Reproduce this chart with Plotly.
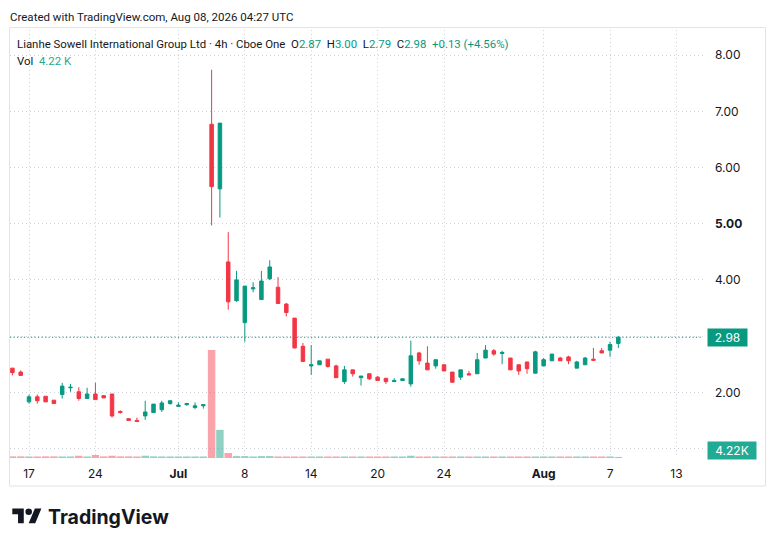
import plotly.graph_objects as go

# ---------------- data ----------------
trading_days = ["2026-06-16","2026-06-17","2026-06-18","2026-06-22","2026-06-23","2026-06-24",
                "2026-06-25","2026-06-26","2026-06-29","2026-06-30","2026-07-01","2026-07-02",
                "2026-07-06","2026-07-07","2026-07-08","2026-07-09","2026-07-10","2026-07-13",
                "2026-07-14","2026-07-15","2026-07-16","2026-07-17","2026-07-20","2026-07-21",
                "2026-07-22","2026-07-23","2026-07-24","2026-07-27","2026-07-28","2026-07-29",
                "2026-07-30","2026-07-31","2026-08-03","2026-08-04","2026-08-05","2026-08-06",
                "2026-08-07"]
future_days = ["2026-08-10","2026-08-11","2026-08-12","2026-08-13"]
session_starts = ["09:30","13:30"]

opens  = [2.43,2.36,1.83,1.92,1.93,1.86,1.96,2.08,2.01,1.89,1.97,1.94,1.97,1.66,1.53,1.50,
          1.58,1.64,1.69,1.80,1.75,1.78,1.73,1.76,6.77,5.62,4.32,3.63,3.24,3.84,3.65,4.02,
          3.87,3.57,3.32,2.82,2.47,2.49,2.59,2.47,2.19,2.40,2.26,2.33,2.27,2.25,2.19,2.21,
          2.15,2.70,2.52,2.47,2.49,2.36,2.27,2.33,2.33,2.61,2.74,2.69,2.61,2.49,2.54,2.34,
          2.47,2.56,2.61,2.63,2.43,2.49,2.59,2.74,2.75,2.87]
highs  = [2.43,2.39,1.96,1.96,1.93,1.86,2.17,2.15,2.09,2.08,2.17,1.95,1.97,1.68,1.54,1.55,
          1.85,1.79,1.85,1.85,1.82,1.81,1.82,1.78,7.74,6.79,4.85,4.16,3.89,3.96,4.16,4.35,
          4.05,3.59,3.32,2.88,2.84,2.56,2.59,2.49,2.47,2.40,2.29,2.33,2.29,2.25,2.25,2.25,
          2.92,2.72,2.82,2.58,2.49,2.36,2.40,2.38,2.70,2.84,2.77,2.74,2.61,2.49,2.54,2.74,
          2.61,2.68,2.63,2.65,2.56,2.63,2.79,2.79,2.90,3.00]
lows   = [2.30,2.30,1.80,1.80,1.83,1.80,1.89,2.01,1.85,1.89,1.87,1.90,1.55,1.62,1.50,1.47,
          1.51,1.64,1.65,1.78,1.74,1.76,1.70,1.71,4.97,5.11,3.47,3.61,2.90,3.78,3.65,4.00,
          3.58,3.35,2.78,2.55,2.31,2.49,2.44,2.26,2.15,2.28,2.12,2.22,2.21,2.15,2.19,2.21,
          2.10,2.49,2.40,2.42,2.38,2.17,2.22,2.31,2.33,2.61,2.65,2.50,2.40,2.31,2.33,2.34,
          2.47,2.56,2.56,2.50,2.43,2.49,2.57,2.70,2.63,2.79]
closes = [2.35,2.30,1.92,1.85,1.83,1.80,2.11,2.09,1.89,1.97,1.87,1.90,1.58,1.64,1.50,1.48,
          1.65,1.79,1.81,1.85,1.77,1.80,1.76,1.78,5.66,6.79,3.61,4.00,3.89,3.86,3.98,4.23,
          3.58,3.42,2.79,2.55,2.49,2.56,2.46,2.26,2.40,2.33,2.29,2.24,2.21,2.19,2.21,2.24,
          2.65,2.56,2.40,2.58,2.38,2.18,2.40,2.31,2.58,2.75,2.68,2.71,2.40,2.38,2.42,2.72,
          2.58,2.68,2.56,2.56,2.54,2.61,2.57,2.70,2.85,2.98]
volumes = [6500,6500,6000,6000,6500,6500,6000,6000,9000,6000,12000,6500,9000,6500,6500,6000,
           9000,6500,6000,6000,6000,6000,6000,6000,430000,112000,20000,7500,7500,6000,7500,7500,
           6000,6000,6000,6000,6000,6000,6000,6000,6000,6000,6000,6000,6000,6000,6000,6000,
           9000,6000,6000,6000,6000,6000,6000,6000,6000,6000,6000,6000,6000,6000,6000,6000,
           6000,6000,6000,6000,6000,6000,6000,6000,6000,4220]

tick_dates  = ["2026-06-17","2026-06-24","2026-07-01","2026-07-08","2026-07-14","2026-07-20",
               "2026-07-24","2026-08-03","2026-08-07","2026-08-13"]
tick_labels = ["17","24","<b>Jul</b>","8","14","20","24","<b>Aug</b>","7","13"]
price_ticks = [1, 2, 3, 4, 5, 6, 7, 8]
price_tick_labels = ["", "2.00", "", "4.00", "<b>5.00</b>", "6.00", "7.00", "8.00"]

symbol = "Lianhe Sowell International Group Ltd · 4h · Cboe One"
created = "Created with TradingView.com, Aug 08, 2026 04:27 UTC"

# ---------------- styling ----------------
UP = "#089981"
DOWN = "#F23645"
UP_VOL = "rgba(8,153,129,0.45)"
DOWN_VOL = "rgba(242,54,69,0.45)"
TXT = "#131722"
GRID = "#cfd2d8"
FONT = "Inter, Roboto, sans-serif"
HFONT = "Roboto, Inter, sans-serif"
OFF = 8                         # page body margin
W, H = 776 - OFF, 546 - OFF
L, R, T, B = 10, 703, 30, 458   # plot area in screen pixels

all_days = trading_days + future_days
bars_per_day = len(session_starts)
bar_labels = [f"{d} {s}" for d in trading_days for s in session_starts]
xs = list(range(len(bar_labels)))
tick_vals = [all_days.index(d) * bars_per_day for d in tick_dates]


def px(x):
    return (x - L) / (R - L)


def py(y):
    return (B - y) / (B - T)


vol_colors = [UP_VOL if c >= o else DOWN_VOL for o, c in zip(opens, closes)]

fig = go.Figure()
fig.add_trace(go.Bar(
    x=xs, y=volumes, marker=dict(color=vol_colors, line=dict(width=0)),
    yaxis="y", hoverinfo="skip", showlegend=False,
))
fig.add_trace(go.Candlestick(
    x=xs, open=opens, high=highs, low=lows, close=closes, yaxis="y2",
    increasing=dict(line=dict(color=UP, width=1), fillcolor=UP),
    decreasing=dict(line=dict(color=DOWN, width=1), fillcolor=DOWN),
    whiskerwidth=0, showlegend=False, hoverinfo="skip",
))

last_close = closes[-1]
chg = closes[-1] - closes[-2]
pct = chg / closes[-2] * 100
last_vol = volumes[-1]

shapes = [
    # chart frame
    dict(type="rect", xref="paper", yref="paper", x0=px(9.5), x1=px(765.5), y0=py(486), y1=py(27.5),
         line=dict(color="#e0e3eb", width=1), fillcolor="rgba(0,0,0,0)", layer="below"),
    # last price line
    dict(type="line", xref="paper", yref="y2", x0=0, x1=1, y0=last_close, y1=last_close,
         line=dict(color=UP, width=1.2, dash="1.2px,2.3px")),
]

# TradingView logo (decoration), built from its 36x18 outline
lx0, ly0, ls = 12.3, 508.5, 0.82


def lp(ux, uy):
    return f"{px(lx0 + ux * ls):.5f},{py(ly0 + (uy - 4) * ls):.5f}"


seven = "M" + " L".join(lp(a, b) for a, b in [(0, 4), (14, 4), (14, 22), (7, 22), (7, 11), (0, 11)]) + " Z"
slash = "M" + " L".join(lp(a, b) for a, b in [(20, 22), (27.5, 4), (35.5, 4), (28, 22)]) + " Z"
shapes.append(dict(type="path", xref="paper", yref="paper", path=seven, fillcolor=TXT, line=dict(width=0)))
shapes.append(dict(type="path", xref="paper", yref="paper", path=slash, fillcolor=TXT, line=dict(width=0)))
shapes.append(dict(type="circle", xref="paper", yref="paper",
                   x0=px(lx0 + 16 * ls), x1=px(lx0 + 24 * ls),
                   y0=py(ly0 + 8 * ls), y1=py(ly0 + 0 * ls), fillcolor=TXT, line=dict(width=0)))

sp = "\u00a0"
g = lambda s: f"<span style='color:{UP}'>{s}</span>"
header = (f"{symbol}{sp*2}O{g(f'{opens[-1]:.2f}')}{sp*2}H{g(f'{highs[-1]:.2f}')}{sp*2}"
          f"L{g(f'{lows[-1]:.2f}')}{sp*2}C{g(f'{closes[-1]:.2f}')}{sp*2}"
          f"{g(f'{chg:+.2f} ({pct:+.2f}%)')}")
vol_text = f"Vol{sp*2}<span style='color:#22ab94'>{last_vol/1000:.2f}{sp}K</span>"

annotations = [
    dict(xref="paper", yref="paper", x=px(8), y=py(17), xanchor="left", yanchor="middle",
         text=created, showarrow=False, font=dict(size=11.5, color=TXT, family=HFONT)),
    dict(xref="paper", yref="paper", x=px(15), y=py(44), xanchor="left", yanchor="middle",
         text=header, showarrow=False, font=dict(size=11.4, color=TXT, family=HFONT)),
    dict(xref="paper", yref="paper", x=px(15), y=py(61), xanchor="left", yanchor="middle",
         text=vol_text, showarrow=False, font=dict(size=11.4, color=TXT, family=HFONT)),
    dict(xref="paper", yref="y2", x=px(707), y=last_close, xanchor="left", yanchor="middle",
         text=f"{last_close:.2f}", showarrow=False, bgcolor=UP, width=35, height=13, borderpad=2,
         font=dict(size=12, color="white", family=FONT)),
    dict(xref="paper", yref="paper", x=px(707), y=py(450), xanchor="left", yanchor="middle",
         text=f"{last_vol/1000:.2f}K", showarrow=False, bgcolor="#22ab94", width=44, height=13,
         borderpad=2, font=dict(size=12, color="white", family=FONT)),
    dict(xref="paper", yref="paper", x=px(46), y=py(517), xanchor="left", yanchor="middle",
         text="<b>TradingView</b>", showarrow=False, font=dict(size=19.5, color=TXT, family=FONT)),
]

fig.update_layout(
    width=W, height=H,
    margin=dict(l=L - OFF, r=W - (R - OFF), t=T - OFF, b=H - (B - OFF), pad=0),
    paper_bgcolor="white", plot_bgcolor="white",
    font=dict(family=FONT, size=12, color=TXT),
    showlegend=False, bargap=0.1, boxgap=0.4,
    xaxis=dict(range=[-0.29, 83.2], tickvals=tick_vals, ticktext=tick_labels,
               showgrid=True, gridcolor=GRID, griddash="1px,3px", gridwidth=1,
               zeroline=False, showline=False, ticks="", ticklabelstandoff=7,
               rangeslider=dict(visible=False), tickfont=dict(size=12, color=TXT),
               fixedrange=True),
    yaxis=dict(range=[0, max(volumes) * (B - T) / 108], visible=False, showgrid=False,
               fixedrange=True),
    yaxis2=dict(range=[0.831, 8.447], overlaying="y", side="right", tickvals=price_ticks,
                ticktext=price_tick_labels, showgrid=True, gridcolor=GRID, griddash="1px,3px",
                gridwidth=1, zeroline=False, showline=False, ticks="", ticklabelstandoff=11,
                tickfont=dict(size=12, color=TXT), fixedrange=True),
    shapes=shapes, annotations=annotations,
)

fig.write_html("out.html")
